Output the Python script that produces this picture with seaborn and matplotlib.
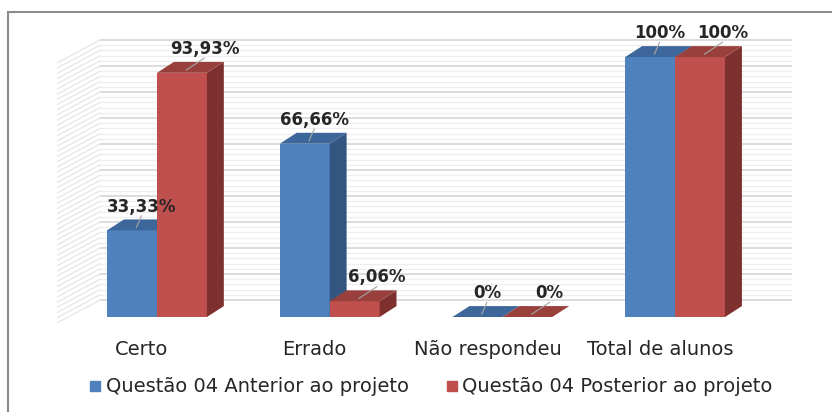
import numpy as np
import pandas as pd
import matplotlib
matplotlib.use("Agg")
import matplotlib.pyplot as plt
import seaborn as sns
from matplotlib.patches import Polygon, Rectangle
from matplotlib.lines import Line2D
from matplotlib.transforms import ScaledTranslation

# data
categories = ["Certo", "Errado", "Não respondeu", "Total de alunos"]
series = ["Questão 04 Anterior ao projeto", "Questão 04 Posterior ao projeto"]
antes = [33.33, 66.66, 0, 100]
depois = [93.93, 6.06, 0, 100]

front = ["#4F81BD", "#C0504D"]
top = ["#3D679A", "#99403D"]
side = ["#33557F", "#7D302E"]
label_shift = [0.055, 0.13]  # data labels sit a bit right of the bar

df = pd.DataFrame({
    "cat": categories * 2,
    "serie": [series[0]] * 4 + [series[1]] * 4,
    "val": antes + depois,
})

sns.set_style("white")
plt.rcParams["font.family"] = ["DejaVu Sans"]

fig = plt.figure(figsize=(8.32, 4.12), dpi=100)
ax = fig.add_axes([57 / 832, 82 / 412, 735 / 832, 300 / 412])

sns.barplot(data=df, x="cat", y="val", hue="serie", palette=front,
            width=0.578, saturation=1, linewidth=0, legend=False, ax=ax, zorder=3)

ax.set_xlim(-0.579, 3.677)
ax.set_ylim(-5, 110.4)
sns.despine(ax=ax, left=True, bottom=True)
ax.set_yticks([])
ax.set_xlabel("")
ax.set_ylabel("")

# walls: back grid + left side
ticks = np.arange(0, 101, 2)
for v in ticks:
    major = v % 10 == 0
    col = "#d6d6d6" if major else "#eeeeee"
    lw = 1.2 if major else 0.9
    ax.plot([-0.33, 3.677], [v + 6.54, v + 6.54], color=col, lw=lw, zorder=1)
    ax.plot([-0.579, -0.33], [v - 2.3, v + 6.54], color="#e5e5e5", lw=0.9, zorder=1)

# 3D faces
dx, dy = 0.098, 4.2
bars = sorted([p for p in ax.patches if p.get_width() > 0], key=lambda p: p.get_x())
for i, p in enumerate(bars):
    x, w, h = p.get_x(), p.get_width(), p.get_height()
    k = 0 if p.get_facecolor()[2] > 0.5 else 1
    z = 3 + i * 0.1
    p.set_zorder(z)
    ax.add_patch(Polygon([(x + w, 0), (x + w + dx, dy), (x + w + dx, h + dy), (x + w, h)],
                         closed=True, fc=side[k], ec="none", zorder=z + 0.01))
    ax.add_patch(Polygon([(x, h), (x + w, h), (x + w + dx, h + dy), (x + dx, h + dy)],
                         closed=True, fc=top[k], ec="none", zorder=z + 0.02))
    txt = f"{int(h)}%" if float(h).is_integer() else f"{h:.2f}".replace(".", ",") + "%"
    lx, ly = x + w / 2 + label_shift[k], h + dy + 1.5
    ax.plot([x + w / 2 + dx * 0.25, lx], [h + dy * 0.25, ly], color="#a6a6a6", lw=0.8, zorder=z + 0.03)
    ax.text(lx, ly, txt, ha="center", va="bottom", fontsize=12, fontweight="bold",
            color="#262626", zorder=10)

# category labels
ax.set_xticks(range(len(categories)))
ax.set_xticklabels(categories, fontsize=14, color="#262626")
ax.tick_params(axis="x", length=0, pad=7)
for lbl in ax.get_xticklabels():
    lbl.set_transform(lbl.get_transform() + ScaledTranslation(-15 / 100, 0, fig.dpi_scale_trans))

# legend
handles = [Line2D([], [], marker="s", ls="", color=c, markersize=7) for c in front]
fig.legend(handles, series, loc="center", bbox_to_anchor=(431 / 832, 0.061), ncol=2,
           frameon=False, fontsize=14, handlelength=0.6, handletextpad=0.25,
           columnspacing=1.9, labelcolor="#262626")

# outer frame
fig.patches.append(Rectangle((8 / 832, -0.1), 1.2, 1.1 - 12 / 412, transform=fig.transFigure,
                             fill=False, edgecolor="#8c8c8c", lw=1.5))

fig.savefig("out.png", dpi=100)
